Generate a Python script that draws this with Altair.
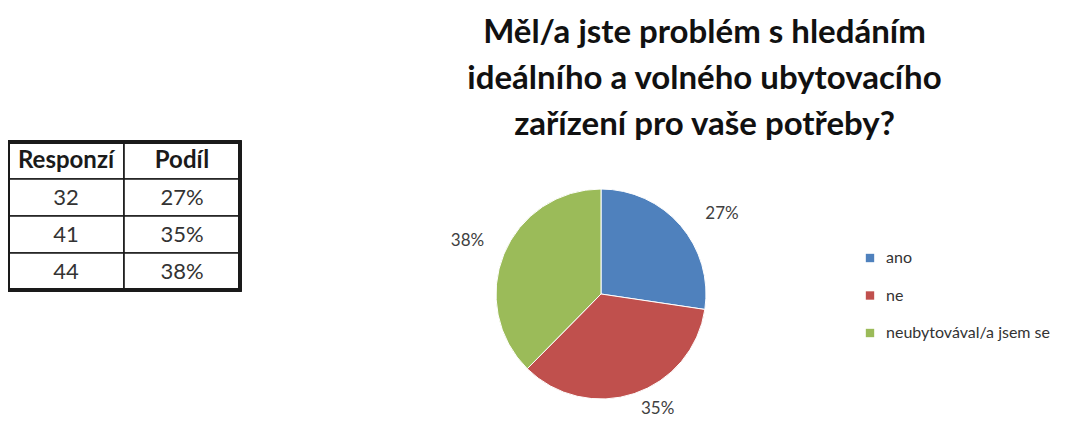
import math
import altair as alt
import pandas as pd

# ---- data ----
categories = ["ano", "ne", "neubytovával/a jsem se"]
responses = [32, 41, 44]
shares = ["27%", "35%", "38%"]
colors = ["#4F81BD", "#C0504D", "#9BBB59"]
table_header = ["Responzí", "Podíl"]
title_lines = ["Měl/a jste problém s hledáním",
               "ideálního a volného ubytovacího",
               "zařízení pro vaše potřeby?"]

# ---- layout constants (chart coords = page - 8) ----
W, H = 1069, 409
TABLE_X = [0, 232]
TABLE_Y = [134, 282]
CX, CY, R = 593, 286, 105
FONT = "Lato"

pie_df = pd.DataFrame({"kategorie": categories, "pocet": responses,
                       "podil": shares, "poradi": list(range(len(categories)))})

row_ids = ["hlavicka"] + [f"r{i}" for i in range(len(responses))]
cells = []
for col in table_header:
    cells.append({"row": row_ids[0], "col": col, "text": col, "head": 1})
for i in range(len(responses)):
    cells.append({"row": row_ids[i + 1], "col": table_header[0], "text": str(responses[i]), "head": 0})
    cells.append({"row": row_ids[i + 1], "col": table_header[1], "text": shares[i], "head": 0})
table_df = pd.DataFrame(cells)

xs = alt.Scale(domain=table_header, range=TABLE_X, paddingInner=0, paddingOuter=0)
ys = alt.Scale(domain=row_ids, range=TABLE_Y, paddingInner=0, paddingOuter=0)

tbase = alt.Chart(table_df).encode(
    x=alt.X("col:N", scale=xs, axis=None),
    y=alt.Y("row:N", scale=ys, axis=None),
)
cells_layer = tbase.mark_rect(fill="white", stroke="#1a1a1a", strokeWidth=1.6)
frame_layer = alt.Chart(table_df).mark_rect(fill=None, stroke="#1a1a1a", strokeWidth=3).encode(
    x=alt.value(TABLE_X[0]), x2=alt.value(TABLE_X[1]),
    y=alt.value(TABLE_Y[0]), y2=alt.value(TABLE_Y[1]),
)
head_text = tbase.transform_filter("datum.head == 1").mark_text(
    font=FONT, fontSize=24, fontWeight="bold", color="#1a1a1a", baseline="middle"
).encode(text="text:N")
body_text = tbase.transform_filter("datum.head == 0").mark_text(
    font=FONT, fontSize=22, color="#333333", baseline="middle"
).encode(text="text:N")

# ---- pie ----
pie = alt.Chart(pie_df).mark_arc(radius=R, stroke="white", strokeWidth=1).encode(
    theta=alt.Theta("pocet:Q", stack=True),
    order=alt.Order("poradi:Q"),
    color=alt.Color("kategorie:N",
                    scale=alt.Scale(domain=categories, range=colors),
                    legend=alt.Legend(orient="none", legendX=854, legendY=242, title=None,
                                      symbolType="square", symbolSize=70, symbolStrokeWidth=0,
                                      labelFont=FONT, labelFontSize=16, labelColor="#333333",
                                      labelOffset=8, rowPadding=21.5, padding=0,
                                      labelLimit=400)),
    x=alt.value(CX), y=alt.value(CY),
)

# label angles from cumulative shares
lbl_base = alt.Chart(pie_df).transform_window(
    cum="sum(pocet)", sort=[alt.SortField("poradi")],
    frame=[None, 0]
).transform_joinaggregate(total="sum(pocet)").transform_calculate(
    ang="2*PI*(datum.cum - datum.pocet/2)/datum.total"
)
label_style = {
    "ano": dict(radius=140, dx=15, dy=11),
    "ne": dict(radius=125, dx=17, dy=-4),
    "neubytovával/a jsem se": dict(radius=140, dx=-4, dy=0),
}
label_layers = []
for cat in categories:
    st = label_style[cat]
    label_layers.append(
        lbl_base.transform_filter(alt.datum.kategorie == cat).mark_text(
            font=FONT, fontSize=17, color="#404040", **st
        ).encode(
            theta=alt.Theta("ang:Q", scale=None),
            text="podil:N",
            x=alt.value(CX), y=alt.value(CY),
        )
    )

chart = alt.layer(cells_layer, frame_layer, head_text, body_text, pie, *label_layers).resolve_scale(
    theta="independent"
).properties(
    width=W, height=H,
    autosize=alt.AutoSizeParams(type="none"),
    padding=0,
    title=alt.TitleParams(text=title_lines, font=FONT, fontSize=33, fontWeight="bold",
                          color="#111111", anchor="middle", frame="group",
                          dx=162, offset=-134, lineHeight=46),
).configure_view(stroke=None)

chart.save("out.html", embed_options={"renderer": "svg", "actions": False})
